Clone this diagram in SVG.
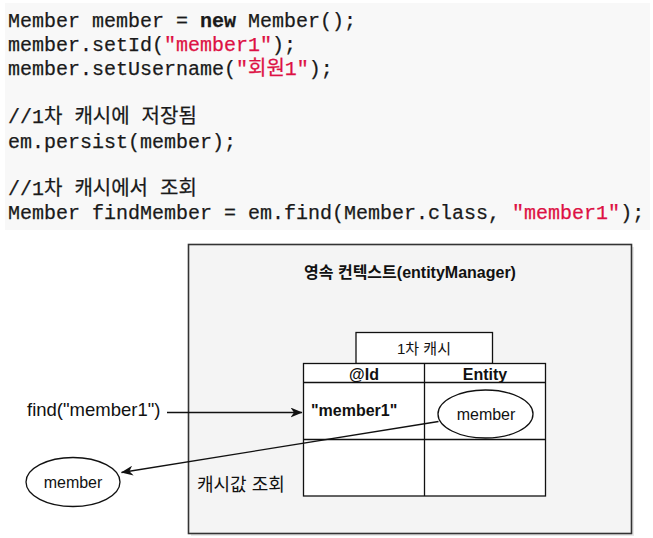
<svg xmlns="http://www.w3.org/2000/svg" width="653" height="538" viewBox="0 0 653 538">
<style>
.code{font-family:"Liberation Mono","Noto Sans CJK KR",monospace;font-size:20px;fill:#1a1a1a;stroke:#1a1a1a;stroke-width:0.25}
.str{fill:#dd1144;stroke:#dd1144}
.sans{font-family:"Liberation Sans","Noto Sans CJK KR",Arial,sans-serif;fill:#111}
.ln{stroke:#111;stroke-width:1.3;fill:none}
.cell{fill:#fff;stroke:#111;stroke-width:1.3}
</style>
<defs>
<marker id="ah" viewBox="0 0 12 10" refX="11.5" refY="5" markerWidth="12" markerHeight="10" markerUnits="userSpaceOnUse" orient="auto">
<path d="M0,0 L12,5 L0,10 L3.5,5 Z" fill="#111"/>
</marker>
</defs>
<rect x="5" y="3" width="645" height="227" fill="#f8f8f8"/>
<g id="code">
<text class="code" x="8" y="26.5">Member member = <tspan font-weight="bold">new</tspan> Member();</text>
<text class="code" x="8" y="50.5">member.setId(<tspan class="str">"member1"</tspan>);</text>
<text class="code" x="8" y="74.5">member.setUsername(<tspan class="str">"회원1"</tspan>);</text>
<text class="code" x="8" y="123">//1차 캐시에 저장됨</text>
<text class="code" x="8" y="147.5">em.persist(member);</text>
<text class="code" x="8" y="195">//1차 캐시에서 조회</text>
<text class="code" x="8" y="219">Member findMember = em.find(Member.class, <tspan class="str">"member1"</tspan>);</text>
</g>
<g id="context">
<rect x="191" y="247" width="443" height="289" fill="#d8d8d8" opacity="0.6"/>
<rect x="188.5" y="244.5" width="443" height="289" fill="#f4f4f4" stroke="#333" stroke-width="1.6"/>
<text class="sans" x="410" y="278" font-size="16" font-weight="bold" text-anchor="middle">영속 컨텍스트(entityManager)</text>
</g>
<g id="cache-title">
<rect class="cell" x="356" y="332.5" width="136.5" height="31"/>
<text class="sans" x="424" y="354" font-size="15" text-anchor="middle">1차 캐시</text>
</g>
<g id="cache-table">
<rect class="cell" x="303.5" y="363.5" width="242" height="132.5"/>
<line class="ln" x1="303.5" y1="382.5" x2="545.5" y2="382.5"/>
<line class="ln" x1="303.5" y1="439.5" x2="545.5" y2="439.5"/>
<line class="ln" x1="424.5" y1="363.5" x2="424.5" y2="496"/>
<text class="sans" x="364" y="380" font-size="16" font-weight="bold" text-anchor="middle">@Id</text>
<text class="sans" x="485" y="380" font-size="16" font-weight="bold" text-anchor="middle">Entity</text>
<text class="sans" x="311" y="416" font-size="16" font-weight="bold">"member1"</text>
</g>
<g id="entity-member">
<ellipse cx="485.5" cy="414" rx="47.5" ry="24" fill="#fff" stroke="#111" stroke-width="1.3"/>
<text class="sans" x="486" y="420" font-size="16" text-anchor="middle">member</text>
</g>
<g id="find-label">
<text class="sans" x="27" y="416" font-size="18.5">find("member1")</text>
</g>
<g id="result-member">
<ellipse cx="73" cy="482" rx="47" ry="24.5" fill="#fff" stroke="#111" stroke-width="1.3"/>
<text class="sans" x="73" y="488" font-size="16" text-anchor="middle">member</text>
</g>
<g id="lookup-label">
<text class="sans" x="197" y="491" font-size="18">캐시값 조회</text>
</g>
<g id="connectors">
<line class="ln" x1="167" y1="412.5" x2="302" y2="412.5" marker-end="url(#ah)"/>
<line class="ln" x1="438.5" y1="421.5" x2="121.5" y2="472.5" marker-end="url(#ah)"/>
</g>
</svg>
